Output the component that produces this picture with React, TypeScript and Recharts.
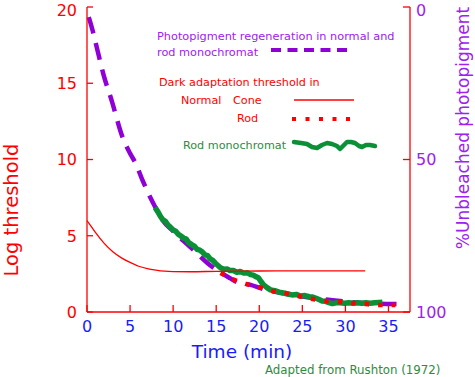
import React from 'react';
import { LineChart, Line, XAxis, YAxis } from 'recharts';

// ---------- data ----------
const timeTicks = [0, 5, 10, 15, 20, 25, 30, 35];
const thresholdTicks = [0, 5, 10, 15, 20];
const unbleachedTicks = [0, 50, 100];

// Photopigment regeneration (% unbleached, right axis)
const pigmentTime = [0.2, 0.7, 1.2, 1.9, 2.9, 4.1, 5.0, 5.6, 6.4, 7.1, 7.9, 8.8, 10, 12, 14, 16.6, 17.4, 19, 20.5, 23, 26, 28, 30.6, 33, 36];
const pigmentPct = [3.3, 8.2, 14, 22, 31, 42.5, 48, 51, 56.5, 61, 65.5, 70, 73.5, 78.7, 84, 88.9, 90.2, 91.1, 92.5, 94, 95.3, 96, 96.7, 97.2, 97.4];

// Normal cone threshold (log threshold, left axis)
const coneTime = [0, 0.5, 1, 2, 3, 4, 5, 6, 7, 8, 9, 10, 12, 15, 20, 25, 32.3];
const coneLog = [6.0, 5.6, 5.2, 4.5, 3.95, 3.55, 3.25, 3.0, 2.85, 2.75, 2.68, 2.65, 2.64, 2.67, 2.69, 2.7, 2.7];

// Normal rod threshold (log threshold, left axis)
const rodTime = [15.5, 16.9, 18.4, 19.9, 21.5, 23, 24.5, 26.2, 27.7, 29.2, 30.8, 32.3, 34, 35.8];
const rodLog = [2.56, 2.16, 1.84, 1.64, 1.38, 1.25, 1.05, 0.85, 0.72, 0.66, 0.59, 0.52, 0.46, 0.46];

// Rod monochromat threshold (log threshold, left axis)
const monoTime = [7.9, 8.2, 8.5, 8.8, 9.1, 9.4, 9.7, 10.0, 10.3, 10.6, 10.9, 11.2, 11.5, 11.8, 12.2, 12.5, 12.8, 13.1, 13.4, 13.7, 14.0, 14.3, 14.6, 14.9, 15.2, 15.5, 15.9, 16.3, 16.6, 17.0, 17.4, 17.8, 18.2, 18.6, 19.0, 19.3, 19.6, 19.9, 20.2, 20.5, 20.9, 21.3, 21.8, 22.3, 22.8, 23.3, 23.8, 24.3, 24.8, 25.3, 25.8, 26.2, 26.6, 27.0, 27.3, 27.7, 28.1, 28.5, 28.9, 29.4, 29.9, 30.4, 30.9, 31.4, 31.9, 32.4, 32.9, 33.4, 33.9, 34.3];
const monoLog = [6.85, 6.6, 6.3, 6.05, 5.95, 5.7, 5.55, 5.38, 5.3, 5.1, 4.98, 4.85, 4.8, 4.55, 4.4, 4.3, 4.1, 4.05, 3.93, 3.75, 3.7, 3.48, 3.38, 3.2, 3.05, 2.9, 2.8, 2.82, 2.72, 2.72, 2.6, 2.66, 2.55, 2.58, 2.45, 2.42, 2.32, 2.25, 2.0, 1.78, 1.6, 1.45, 1.4, 1.3, 1.25, 1.18, 1.12, 1.15, 1.05, 1.08, 1.0, 0.98, 0.9, 0.8, 0.72, 0.7, 0.62, 0.55, 0.6, 0.6, 0.57, 0.6, 0.58, 0.6, 0.57, 0.6, 0.58, 0.6, 0.62, 0.64];

const pigmentData = pigmentTime.map((t, i) => ({ t, v: pigmentPct[i] }));
const coneData = coneTime.map((t, i) => ({ t, v: coneLog[i] }));
const rodData = rodTime.map((t, i) => ({ t, v: rodLog[i] }));
const monoData = monoTime.map((t, i) => ({ t, v: monoLog[i] }));

// ---------- styles ----------
const FONT = "'DejaVu Sans', sans-serif";
const RED = '#ff0000';
const BLUE = '#1a1aff';
const PURPLE_LINE = '#8f00d6';
const PURPLE_TEXT = '#a020f0';
const GREEN = '#0a9138';
const GREEN_TEXT = '#2e8b3e';

const LEFT_MARGIN = 10;
const RIGHT_MARGIN = 6;
const BOTTOM_MARGIN = 9;

// keep the topmost tick label inside the picture
const labelY = (y: number) => (y < 12 ? y + 3 : y);

function LeftTick(props: any) {
  const { x, y, payload } = props;
  const ax = x + LEFT_MARGIN;
  return (
    <g>
      <line x1={ax} x2={ax + 6} y1={y} y2={y} stroke={RED} strokeWidth={1.3} />
      <text x={x} y={labelY(y)} dy="0.36em" textAnchor="end" fill={RED} fontSize={16} fontFamily={FONT}>
        {payload.value}
      </text>
    </g>
  );
}

function RightTick(props: any) {
  const { x, y, payload } = props;
  const ax = x - RIGHT_MARGIN;
  return (
    <g>
      <line x1={ax - 7} x2={ax} y1={y} y2={y} stroke={RED} strokeWidth={1.3} />
      <text x={x} y={labelY(y)} dy="0.36em" textAnchor="start" fill={PURPLE_TEXT} fontSize={16} fontFamily={FONT}>
        {payload.value}
      </text>
    </g>
  );
}

function BottomTick(props: any) {
  const { x, y, payload } = props;
  const ay = y - BOTTOM_MARGIN;
  return (
    <g>
      <line x1={x} x2={x} y1={ay - 7} y2={ay} stroke={RED} strokeWidth={1.3} />
      <text x={x} y={y} dy="0.71em" textAnchor="middle" fill={BLUE} fontSize={16} fontFamily={FONT}>
        {payload.value}
      </text>
    </g>
  );
}

export default function App() {
  return (
    <div style={{ position: 'absolute', left: 0, top: 0, width: 475, height: 377, background: '#fff' }}>
      <LineChart width={475} height={377} margin={{ top: 7, right: 0, bottom: 0, left: 0 }}>
        <XAxis
          dataKey="t"
          type="number"
          domain={[0, 37.5]}
          ticks={timeTicks}
          interval={0}
          height={65}
          tickSize={0}
          tickMargin={BOTTOM_MARGIN}
          tickLine={false}
          axisLine={{ stroke: RED, strokeWidth: 1.3 }}
          tick={BottomTick}
        />
        <YAxis
          yAxisId="left"
          type="number"
          domain={[0, 20]}
          ticks={thresholdTicks}
          interval={0}
          width={87}
          tickSize={0}
          tickMargin={LEFT_MARGIN}
          tickLine={false}
          axisLine={{ stroke: RED, strokeWidth: 1.3 }}
          tick={LeftTick}
        />
        <YAxis
          yAxisId="right"
          orientation="right"
          type="number"
          domain={[0, 100]}
          reversed
          ticks={unbleachedTicks}
          interval={0}
          width={65}
          tickSize={0}
          tickMargin={RIGHT_MARGIN}
          tickLine={false}
          axisLine={{ stroke: RED, strokeWidth: 1.3 }}
          tick={RightTick}
        />
        <Line
          data={pigmentData}
          dataKey="v"
          yAxisId="right"
          type="monotone"
          stroke={PURPLE_LINE}
          strokeWidth={4.5}
          strokeDasharray="17 10"
          dot={false}
          activeDot={false}
          isAnimationActive={false}
        />
        <Line
          data={monoData}
          dataKey="v"
          yAxisId="left"
          type="linear"
          stroke={GREEN}
          strokeWidth={5.5}
          strokeLinejoin="round"
          dot={false}
          activeDot={false}
          isAnimationActive={false}
        />
        <Line
          data={coneData}
          dataKey="v"
          yAxisId="left"
          type="monotone"
          stroke={RED}
          strokeWidth={1.3}
          dot={false}
          activeDot={false}
          isAnimationActive={false}
        />
        <Line
          data={rodData}
          dataKey="v"
          yAxisId="left"
          type="monotone"
          stroke={RED}
          strokeWidth={4.5}
          strokeDasharray="4.5 9"
          dot={false}
          activeDot={false}
          isAnimationActive={false}
        />
      </LineChart>
      <svg
        width={475}
        height={377}
        style={{ position: 'absolute', left: 0, top: 0, pointerEvents: 'none' }}
        fontFamily={FONT}
      >
        {/* axis titles */}
        <text x={11} y={210} transform="rotate(-90 11 210)" textAnchor="middle" dominantBaseline="central" fill={RED} fontSize={19.5}>
          Log threshold
        </text>
        <text x={463} y={128} transform="rotate(-90 463 128)" textAnchor="middle" dominantBaseline="central" fill={PURPLE_TEXT} fontSize={17}>
          %Unbleached photopigment
        </text>
        <text x={242} y={358} textAnchor="middle" fill={BLUE} fontSize={18.5}>
          Time (min)
        </text>
        <text x={265} y={374} fill={GREEN_TEXT} fontSize={11.8}>
          Adapted from Rushton (1972)
        </text>

        {/* legend */}
        <text x={157} y={40} fill={PURPLE_TEXT} fontSize={11.3}>
          Photopigment regeneration in normal and
        </text>
        <text x={157} y={56} fill={PURPLE_TEXT} fontSize={11.3}>
          rod monochromat
        </text>
        <line x1={271} x2={349} y1={50} y2={50} stroke={PURPLE_LINE} strokeWidth={4} strokeDasharray="10 6.5" />

        <text x={159} y={86} fill={RED} fontSize={11.2}>
          Dark adaptation threshold in
        </text>
        <text x={181} y={104} fill={RED} fontSize={11.2}>
          Normal
        </text>
        <text x={233} y={104} fill={RED} fontSize={11.2}>
          Cone
        </text>
        <line x1={294} x2={354} y1={100} y2={100} stroke={RED} strokeWidth={1.3} />
        <text x={237} y={122} fill={RED} fontSize={11.2}>
          Rod
        </text>
        <line x1={292} x2={350} y1={119} y2={119} stroke={RED} strokeWidth={4} strokeDasharray="4 9.5" />

        <text x={183} y={149} fill={GREEN_TEXT} fontSize={11.2}>
          Rod monochromat
        </text>
        <polyline
          points="294,142 301,143 307,144 312,147 317,148 322,145 327,143 332,144 337,146 340,149 344,145 347,142 351,142 355,143 359,146 362,147 366,145 370,145 375,146"
          fill="none"
          stroke={GREEN}
          strokeWidth={4.5}
          strokeLinejoin="round"
          strokeLinecap="round"
        />
      </svg>
    </div>
  );
}
